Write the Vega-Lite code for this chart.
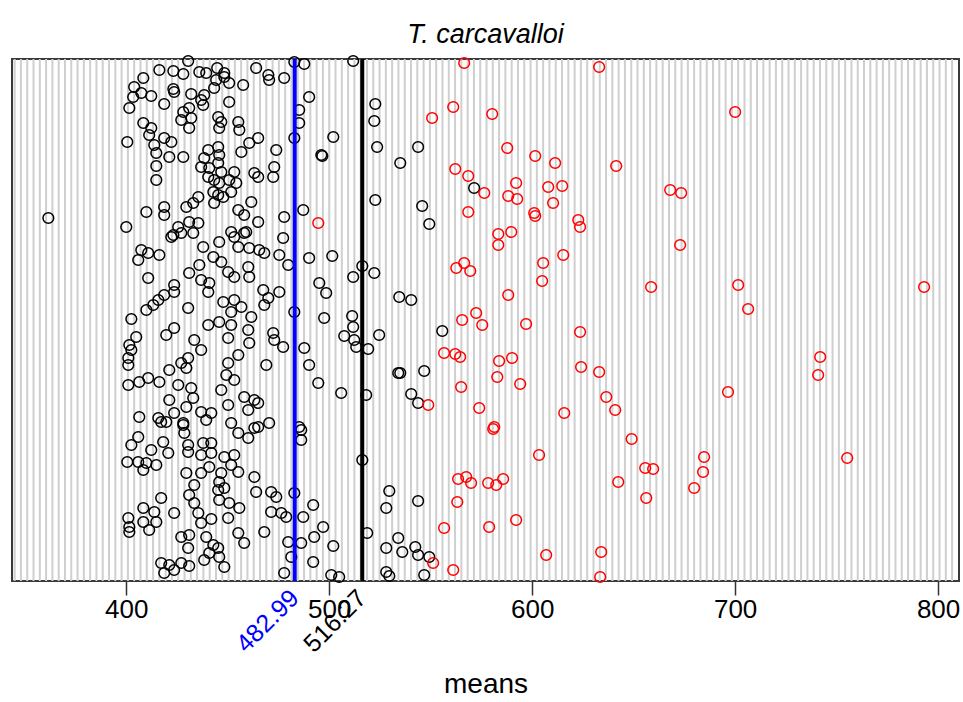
{
"$schema":"https://vega.github.io/schema/vega-lite/v6.json",
"width":947,"height":522,
"autosize":{"type":"none"},
"padding":{"left":12,"top":59,"right":4,"bottom":121},
"background":"white",
"config":{"view":{"stroke":"#3a3a3a","strokeWidth":2},"font":"Liberation Sans"},
"title":{"text":"T. carcavalloi","fontStyle":"italic","fontWeight":"normal","fontSize":27,"font":"Liberation Sans","color":"black","offset":4,"anchor":"middle"},
"datasets":{
"grid":[{"g":345},{"g":348.1},{"g":351.2},{"g":354.3},{"g":357.4},{"g":360.5},{"g":363.6},{"g":366.7},{"g":369.8},{"g":372.9},{"g":376},{"g":379.1},{"g":382.2},{"g":385.3},{"g":388.4},{"g":391.5},{"g":394.6},{"g":397.7},{"g":400.8},{"g":403.9},{"g":407},{"g":410.1},{"g":413.2},{"g":416.3},{"g":419.4},{"g":422.5},{"g":425.6},{"g":428.7},{"g":431.8},{"g":434.9},{"g":438},{"g":441.1},{"g":444.2},{"g":447.3},{"g":450.4},{"g":453.5},{"g":456.6},{"g":459.7},{"g":462.8},{"g":465.9},{"g":469},{"g":472.1},{"g":475.2},{"g":478.3},{"g":481.4},{"g":484.5},{"g":487.6},{"g":490.7},{"g":493.8},{"g":496.9},{"g":500},{"g":503.1},{"g":506.2},{"g":509.3},{"g":512.4},{"g":515.5},{"g":518.6},{"g":521.7},{"g":524.8},{"g":527.9},{"g":531},{"g":534.1},{"g":537.2},{"g":540.3},{"g":543.4},{"g":546.5},{"g":549.6},{"g":552.7},{"g":555.8},{"g":558.9},{"g":562},{"g":565.1},{"g":568.2},{"g":571.3},{"g":574.4},{"g":577.5},{"g":580.6},{"g":583.7},{"g":586.8},{"g":589.9},{"g":593},{"g":596.1},{"g":599.2},{"g":602.3},{"g":605.4},{"g":608.5},{"g":611.6},{"g":614.7},{"g":617.8},{"g":620.9},{"g":624},{"g":627.1},{"g":630.2},{"g":633.3},{"g":636.4},{"g":639.5},{"g":642.6},{"g":645.7},{"g":648.8},{"g":651.9},{"g":655},{"g":658.1},{"g":661.2},{"g":664.3},{"g":667.4},{"g":670.5},{"g":673.6},{"g":676.7},{"g":679.8},{"g":682.9},{"g":686},{"g":689.1},{"g":692.2},{"g":695.3},{"g":698.4},{"g":701.5},{"g":704.6},{"g":707.7},{"g":710.8},{"g":713.9},{"g":717},{"g":720.1},{"g":723.2},{"g":726.3},{"g":729.4},{"g":732.5},{"g":735.6},{"g":738.7},{"g":741.8},{"g":744.9},{"g":748},{"g":751.1},{"g":754.2},{"g":757.3},{"g":760.4},{"g":763.5},{"g":766.6},{"g":769.7},{"g":772.8},{"g":775.9},{"g":779},{"g":782.1},{"g":785.2},{"g":788.3},{"g":791.4},{"g":794.5},{"g":797.6},{"g":800.7},{"g":803.8},{"g":806.9}],
"pts":[
{"m":416.3,"i":511,"s":"a"},{"m":423.2,"i":510,"s":"a"},{"m":428.1,"i":507,"s":"a"},{"m":430.5,"i":520,"s":"a"},{"m":436,"i":509,"s":"a"},{"m":439.4,"i":508,"s":"a"},{"m":444.8,"i":513,"s":"a"},{"m":448.3,"i":508,"s":"a"},{"m":464,"i":513,"s":"a"},{"m":470,"i":506,"s":"a"},{"m":470.4,"i":501,"s":"a"},{"m":477.8,"i":503,"s":"a"},{"m":482.8,"i":519,"s":"a"},{"m":487.7,"i":517,"s":"a"},{"m":408.4,"i":503,"s":"a"},{"m":403.9,"i":494,"s":"a"},{"m":403.4,"i":484,"s":"a"},{"m":407.4,"i":488,"s":"a"},{"m":412.3,"i":485,"s":"a"},{"m":401.5,"i":473,"s":"a"},{"m":418.7,"i":477,"s":"a"},{"m":423.2,"i":492,"s":"a"},{"m":423.6,"i":489,"s":"a"},{"m":432,"i":487,"s":"a"},{"m":436.9,"i":481,"s":"a"},{"m":438.4,"i":486,"s":"a"},{"m":443.3,"i":493,"s":"a"},{"m":444.3,"i":501,"s":"a"},{"m":448.3,"i":504,"s":"a"},{"m":450.7,"i":498,"s":"a"},{"m":457.6,"i":496,"s":"a"},{"m":450.7,"i":479,"s":"a"},{"m":428.1,"i":469,"s":"a"},{"m":431,"i":473,"s":"a"},{"m":427.1,"i":461,"s":"a"},{"m":432,"i":463,"s":"a"},{"m":431,"i":453,"s":"a"},{"m":437.9,"i":476,"s":"a"},{"m":445.3,"i":464,"s":"a"},{"m":445.8,"i":453,"s":"a"},{"m":446.8,"i":459,"s":"a"},{"m":455.2,"i":459,"s":"a"},{"m":455.7,"i":451,"s":"a"},{"m":465,"i":443,"s":"a"},{"m":460.6,"i":438,"s":"a"},{"m":456.7,"i":429,"s":"a"},{"m":473.9,"i":431,"s":"a"},{"m":490.1,"i":484,"s":"a"},{"m":485.2,"i":471,"s":"a"},{"m":485.2,"i":458,"s":"a"},{"m":482.8,"i":443,"s":"a"},{"m":496.1,"i":426,"s":"a"},{"m":408.4,"i":458,"s":"a"},{"m":412.3,"i":453,"s":"a"},{"m":411.3,"i":446,"s":"a"},{"m":418.7,"i":443,"s":"a"},{"m":422.2,"i":439,"s":"a"},{"m":413.8,"i":436,"s":"a"},{"m":414.8,"i":428,"s":"a"},{"m":400.5,"i":439,"s":"a"},{"m":421.2,"i":424,"s":"a"},{"m":428.1,"i":424,"s":"a"},{"m":414.8,"i":415,"s":"a"},{"m":414.8,"i":401,"s":"a"},{"m":438.4,"i":423,"s":"a"},{"m":440.4,"i":431,"s":"a"},{"m":445.3,"i":434,"s":"a"},{"m":445.8,"i":426,"s":"a"},{"m":436.9,"i":414,"s":"a"},{"m":440.9,"i":413,"s":"a"},{"m":445.3,"i":418,"s":"a"},{"m":446.8,"i":409,"s":"a"},{"m":440.4,"i":404,"s":"a"},{"m":443.3,"i":401,"s":"a"},{"m":445.8,"i":398,"s":"a"},{"m":450.7,"i":401,"s":"a"},{"m":453.2,"i":409,"s":"a"},{"m":454.2,"i":398,"s":"a"},{"m":442.9,"i":389,"s":"a"},{"m":445.3,"i":386,"s":"a"},{"m":443.3,"i":378,"s":"a"},{"m":447.8,"i":384,"s":"a"},{"m":451.7,"i":389,"s":"a"},{"m":463.1,"i":408,"s":"a"},{"m":465,"i":404,"s":"a"},{"m":472.9,"i":414,"s":"a"},{"m":472.4,"i":404,"s":"a"},{"m":435.5,"i":384,"s":"a"},{"m":433,"i":378,"s":"a"},{"m":429.6,"i":374,"s":"a"},{"m":418.7,"i":374,"s":"a"},{"m":418.7,"i":366,"s":"a"},{"m":409.9,"i":369,"s":"a"},{"m":461.6,"i":379,"s":"a"},{"m":455.2,"i":371,"s":"a"},{"m":458.1,"i":366,"s":"a"},{"m":465,"i":359,"s":"a"},{"m":477.8,"i":364,"s":"a"},{"m":487.2,"i":371,"s":"a"},{"m":361.6,"i":363,"s":"a"},{"m":400,"i":354,"s":"a"},{"m":425.6,"i":354,"s":"a"},{"m":431,"i":359,"s":"a"},{"m":435.5,"i":358,"s":"a"},{"m":423.2,"i":346,"s":"a"},{"m":433,"i":348,"s":"a"},{"m":451.7,"i":349,"s":"a"},{"m":459.1,"i":349,"s":"a"},{"m":477.3,"i":343,"s":"a"},
{"m":511.8,"i":520,"s":"a"},{"m":502,"i":444,"s":"a"},{"m":496.6,"i":425,"s":"a"},{"m":522.7,"i":477,"s":"a"},{"m":522.2,"i":460,"s":"a"},{"m":523.6,"i":434,"s":"a"},{"m":543.8,"i":434,"s":"a"},{"m":535,"i":418,"s":"a"},{"m":522.7,"i":381,"s":"a"},{"m":545.8,"i":375,"s":"a"},{"m":549.3,"i":357,"s":"a"},{"m":571.4,"i":393,"s":"a"},
{"m":422.2,"i":344,"s":"a"},{"m":427.1,"i":348,"s":"a"},{"m":445.8,"i":339,"s":"a"},{"m":453.2,"i":344,"s":"a"},{"m":458.1,"i":348,"s":"a"},{"m":455.2,"i":334,"s":"a"},{"m":460.6,"i":333,"s":"a"},{"m":465.5,"i":331,"s":"a"},{"m":468,"i":328,"s":"a"},{"m":407.4,"i":331,"s":"a"},{"m":405.9,"i":321,"s":"a"},{"m":410.8,"i":328,"s":"a"},{"m":416.3,"i":326,"s":"a"},{"m":437.9,"i":334,"s":"a"},{"m":442.9,"i":324,"s":"a"},{"m":446.8,"i":319,"s":"a"},{"m":436,"i":316,"s":"a"},{"m":431,"i":308,"s":"a"},{"m":436.9,"i":301,"s":"a"},{"m":440.4,"i":289,"s":"a"},{"m":440.9,"i":298,"s":"a"},{"m":450.2,"i":309,"s":"a"},{"m":453.2,"i":304,"s":"a"},{"m":460.1,"i":314,"s":"a"},{"m":460.6,"i":304,"s":"a"},{"m":479.8,"i":316,"s":"a"},{"m":490.1,"i":323,"s":"a"},{"m":410.8,"i":303,"s":"a"},{"m":423.6,"i":296,"s":"a"},{"m":423.6,"i":289,"s":"a"},{"m":418.7,"i":286,"s":"a"},{"m":415.8,"i":281,"s":"a"},{"m":413.3,"i":276,"s":"a"},{"m":409.9,"i":271,"s":"a"},{"m":430.5,"i":273,"s":"a"},{"m":402.5,"i":262,"s":"a"},{"m":423.6,"i":253,"s":"a"},{"m":419.7,"i":246,"s":"a"},{"m":404.9,"i":244,"s":"a"},{"m":401.5,"i":236,"s":"a"},{"m":402.5,"i":231,"s":"a"},{"m":401,"i":223,"s":"a"},{"m":401,"i":216,"s":"a"},{"m":401,"i":196,"s":"a"},{"m":406.4,"i":199,"s":"a"},{"m":410.8,"i":203,"s":"a"},{"m":416.3,"i":199,"s":"a"},{"m":421.2,"i":211,"s":"a"},{"m":425.6,"i":196,"s":"a"},{"m":427.1,"i":218,"s":"a"},{"m":430.5,"i":223,"s":"a"},{"m":429.6,"i":213,"s":"a"},{"m":433.5,"i":241,"s":"a"},{"m":436.9,"i":231,"s":"a"},{"m":440.4,"i":256,"s":"a"},{"m":445.8,"i":259,"s":"a"},{"m":447.8,"i":279,"s":"a"},{"m":453.2,"i":281,"s":"a"},{"m":451.7,"i":269,"s":"a"},{"m":456.7,"i":274,"s":"a"},{"m":461.6,"i":264,"s":"a"},{"m":451.7,"i":256,"s":"a"},{"m":460.1,"i":251,"s":"a"},{"m":450.2,"i":243,"s":"a"},{"m":460.6,"i":238,"s":"a"},{"m":455.2,"i":226,"s":"a"},{"m":450.2,"i":218,"s":"a"},{"m":449.3,"i":206,"s":"a"},{"m":453.2,"i":201,"s":"a"},{"m":446.8,"i":191,"s":"a"},{"m":432,"i":193,"s":"a"},{"m":433,"i":183,"s":"a"},{"m":421.2,"i":181,"s":"a"},{"m":429.6,"i":174,"s":"a"},{"m":436.9,"i":169,"s":"a"},{"m":441.9,"i":168,"s":"a"},{"m":423.6,"i":168,"s":"a"},{"m":415.8,"i":163,"s":"a"},{"m":419.7,"i":159,"s":"a"},{"m":428.1,"i":158,"s":"a"},{"m":406.4,"i":164,"s":"a"},{"m":450.2,"i":176,"s":"a"},{"m":458.1,"i":184,"s":"a"},{"m":463.1,"i":181,"s":"a"},{"m":465,"i":178,"s":"a"},{"m":460.1,"i":171,"s":"a"},{"m":469,"i":216,"s":"a"},{"m":467.5,"i":291,"s":"a"},{"m":470,"i":283,"s":"a"},{"m":468,"i":276,"s":"a"},{"m":475.4,"i":289,"s":"a"},{"m":472.4,"i":248,"s":"a"},{"m":472.9,"i":241,"s":"a"},{"m":477.3,"i":234,"s":"a"},{"m":475.4,"i":326,"s":"a"},{"m":482.8,"i":269,"s":"a"},{"m":487.7,"i":233,"s":"a"},{"m":490.1,"i":216,"s":"a"},{"m":494.6,"i":198,"s":"a"},{"m":495.1,"i":298,"s":"a"},{"m":498.5,"i":288,"s":"a"},{"m":497.5,"i":263,"s":"a"},{"m":470.4,"i":158,"s":"a"},{"m":465,"i":154,"s":"a"},{"m":451.7,"i":158,"s":"a"},{"m":485.2,"i":154,"s":"a"},
{"m":501.5,"i":325,"s":"a"},{"m":516.3,"i":315,"s":"a"},{"m":511.8,"i":304,"s":"a"},{"m":522.2,"i":308,"s":"a"},{"m":511.3,"i":265,"s":"a"},{"m":511.8,"i":254,"s":"a"},{"m":507.4,"i":245,"s":"a"},{"m":512.3,"i":241,"s":"a"},{"m":513.3,"i":234,"s":"a"},{"m":519.2,"i":232,"s":"a"},{"m":524.6,"i":246,"s":"a"},{"m":505.9,"i":188,"s":"a"},{"m":518.2,"i":186,"s":"a"},{"m":534.5,"i":284,"s":"a"},{"m":540.4,"i":281,"s":"a"},{"m":555.7,"i":250,"s":"a"},{"m":534,"i":208,"s":"a"},{"m":535,"i":208,"s":"a"},{"m":546.8,"i":210,"s":"a"},{"m":540.4,"i":187,"s":"a"},{"m":543.8,"i":178,"s":"a"},
{"m":417.2,"i":159,"s":"a"},{"m":428.1,"i":156,"s":"a"},{"m":439.4,"i":161,"s":"a"},{"m":463.1,"i":153,"s":"a"},{"m":405.9,"i":144,"s":"a"},{"m":402.5,"i":136,"s":"a"},{"m":400.5,"i":119,"s":"a"},{"m":405.9,"i":119,"s":"a"},{"m":409.9,"i":118,"s":"a"},{"m":414.8,"i":116,"s":"a"},{"m":408.4,"i":111,"s":"a"},{"m":412.3,"i":131,"s":"a"},{"m":418.2,"i":139,"s":"a"},{"m":420.7,"i":128,"s":"a"},{"m":428.6,"i":148,"s":"a"},{"m":430.5,"i":136,"s":"a"},{"m":430.5,"i":129,"s":"a"},{"m":437.9,"i":138,"s":"a"},{"m":441.9,"i":138,"s":"a"},{"m":441.9,"i":128,"s":"a"},{"m":436.9,"i":126,"s":"a"},{"m":448.3,"i":124,"s":"a"},{"m":453.2,"i":126,"s":"a"},{"m":455.2,"i":148,"s":"a"},{"m":460.1,"i":143,"s":"a"},{"m":440.9,"i":114,"s":"a"},{"m":436.9,"i":108,"s":"a"},{"m":429.6,"i":108,"s":"a"},{"m":433.5,"i":96,"s":"a"},{"m":431,"i":86,"s":"a"},{"m":433.5,"i":78,"s":"a"},{"m":435.5,"i":68,"s":"a"},{"m":436.9,"i":58,"s":"a"},{"m":445.8,"i":99,"s":"a"},{"m":448.3,"i":93,"s":"a"},{"m":445.3,"i":91,"s":"a"},{"m":446.8,"i":108,"s":"a"},{"m":451.7,"i":116,"s":"a"},{"m":455.2,"i":109,"s":"a"},{"m":445.8,"i":81,"s":"a"},{"m":450.7,"i":78,"s":"a"},{"m":455.7,"i":73,"s":"a"},{"m":450.2,"i":63,"s":"a"},{"m":441.9,"i":62,"s":"a"},{"m":463.1,"i":104,"s":"a"},{"m":464,"i":89,"s":"a"},{"m":471.4,"i":89,"s":"a"},{"m":473.9,"i":84,"s":"a"},{"m":471.4,"i":69,"s":"a"},{"m":476.4,"i":68,"s":"a"},{"m":478.8,"i":64,"s":"a"},{"m":487.2,"i":64,"s":"a"},{"m":492.1,"i":76,"s":"a"},{"m":497,"i":54,"s":"a"},{"m":492.6,"i":44,"s":"a"},{"m":486.2,"i":151,"s":"a"},{"m":486.2,"i":141,"s":"a"},{"m":482.8,"i":88,"s":"a"},{"m":468,"i":49,"s":"a"},{"m":455.2,"i":48,"s":"a"},{"m":458.1,"i":38,"s":"a"},{"m":479.8,"i":39,"s":"a"},{"m":486.2,"i":38,"s":"a"},{"m":481.3,"i":24,"s":"a"},{"m":492.1,"i":19,"s":"a"},{"m":477.8,"i":8,"s":"a"},{"m":417.2,"i":83,"s":"a"},{"m":423.6,"i":68,"s":"a"},{"m":408.4,"i":73,"s":"a"},{"m":413.8,"i":69,"s":"a"},{"m":401,"i":63,"s":"a"},{"m":408.4,"i":59,"s":"a"},{"m":414.8,"i":59,"s":"a"},{"m":401.5,"i":54,"s":"a"},{"m":401.5,"i":49,"s":"a"},{"m":411.3,"i":51,"s":"a"},{"m":427.1,"i":44,"s":"a"},{"m":431,"i":46,"s":"a"},{"m":430.5,"i":33,"s":"a"},{"m":439.4,"i":44,"s":"a"},{"m":442.9,"i":36,"s":"a"},{"m":445.3,"i":33,"s":"a"},{"m":440.9,"i":28,"s":"a"},{"m":438.4,"i":21,"s":"a"},{"m":445.8,"i":24,"s":"a"},{"m":448.3,"i":14,"s":"a"},{"m":417.2,"i":18,"s":"a"},{"m":421.2,"i":16,"s":"a"},{"m":427.1,"i":18,"s":"a"},{"m":431,"i":15,"s":"a"},{"m":418.7,"i":8,"s":"a"},{"m":423.6,"i":11,"s":"a"},
{"m":516.3,"i":121,"s":"a"},{"m":502,"i":35,"s":"a"},{"m":501,"i":6,"s":"a"},{"m":504.9,"i":4,"s":"a"},{"m":518.7,"i":48,"s":"a"},{"m":529.6,"i":90,"s":"a"},{"m":528.1,"i":73,"s":"a"},{"m":543.8,"i":80,"s":"a"},{"m":534,"i":43,"s":"a"},{"m":528.1,"i":33,"s":"a"},{"m":536,"i":29,"s":"a"},{"m":542.4,"i":34,"s":"a"},{"m":543.8,"i":26,"s":"a"},{"m":549.3,"i":24,"s":"a"},{"m":528.1,"i":9,"s":"a"},{"m":529.6,"i":5,"s":"a"},{"m":546.8,"i":6,"s":"a"},
{"m":494.6,"i":358,"s":"b"},{"m":566.5,"i":518,"s":"b"},{"m":633,"i":514,"s":"b"},{"m":561.1,"i":474,"s":"b"},{"m":550.7,"i":463,"s":"b"},{"m":580.3,"i":467,"s":"b"},{"m":587.7,"i":433,"s":"b"},{"m":601.5,"i":425,"s":"b"},{"m":611.3,"i":418,"s":"b"},{"m":641.4,"i":415,"s":"b"},{"m":562.1,"i":412,"s":"b"},{"m":568.5,"i":405,"s":"b"},{"m":576.4,"i":388,"s":"b"},{"m":592.1,"i":398,"s":"b"},{"m":588.2,"i":385,"s":"b"},{"m":592.6,"i":382,"s":"b"},{"m":607.9,"i":394,"s":"b"},{"m":614.8,"i":395,"s":"b"},{"m":610.3,"i":378,"s":"b"},{"m":601,"i":368,"s":"b"},{"m":601.5,"i":365,"s":"b"},{"m":568.5,"i":369,"s":"b"},{"m":583.3,"i":347,"s":"b"},{"m":589.7,"i":349,"s":"b"},{"m":622.7,"i":361,"s":"b"},{"m":623.6,"i":354,"s":"b"},{"m":700,"i":469,"s":"b"},{"m":668,"i":391,"s":"b"},{"m":673.4,"i":388,"s":"b"},{"m":672.9,"i":336,"s":"b"},{"m":583.3,"i":336,"s":"b"},{"m":562.6,"i":313,"s":"b"},{"m":566.5,"i":318,"s":"b"},{"m":569.5,"i":310,"s":"b"},{"m":605.4,"i":318,"s":"b"},{"m":615.3,"i":326,"s":"b"},{"m":604.9,"i":300,"s":"b"},{"m":588.2,"i":286,"s":"b"},{"m":565.5,"i":261,"s":"b"},{"m":572.4,"i":268,"s":"b"},{"m":575.4,"i":256,"s":"b"},{"m":597,"i":257,"s":"b"},{"m":623.6,"i":249,"s":"b"},{"m":556.6,"i":228,"s":"b"},{"m":562.1,"i":227,"s":"b"},{"m":564.5,"i":224,"s":"b"},{"m":583.7,"i":220,"s":"b"},{"m":590.1,"i":223,"s":"b"},{"m":582.8,"i":204,"s":"b"},{"m":624.1,"i":214,"s":"b"},{"m":633,"i":209,"s":"b"},{"m":565,"i":194,"s":"b"},{"m":594.1,"i":197,"s":"b"},{"m":636.5,"i":184,"s":"b"},{"m":640.9,"i":171,"s":"b"},{"m":573.9,"i":173,"s":"b"},{"m":615.8,"i":168,"s":"b"},{"m":581.3,"i":154,"s":"b"},{"m":548.8,"i":176,"s":"b"},{"m":658.6,"i":294,"s":"b"},{"m":701.5,"i":296,"s":"b"},{"m":706.4,"i":272,"s":"b"},{"m":793.1,"i":294,"s":"b"},{"m":741.9,"i":224,"s":"b"},{"m":740.9,"i":206,"s":"b"},{"m":696.5,"i":189,"s":"b"},{"m":580.8,"i":152,"s":"b"},{"m":603.4,"i":126,"s":"b"},{"m":649,"i":142,"s":"b"},{"m":563.5,"i":102,"s":"b"},{"m":567.5,"i":104,"s":"b"},{"m":569.9,"i":98,"s":"b"},{"m":578.3,"i":98,"s":"b"},{"m":582.3,"i":96,"s":"b"},{"m":585.7,"i":102,"s":"b"},{"m":642.4,"i":99,"s":"b"},{"m":563.1,"i":79,"s":"b"},{"m":556.6,"i":53,"s":"b"},{"m":578.8,"i":54,"s":"b"},{"m":592.1,"i":61,"s":"b"},{"m":606.9,"i":26,"s":"b"},{"m":634,"i":29,"s":"b"},{"m":561.1,"i":11,"s":"b"},{"m":633.5,"i":4,"s":"b"},{"m":551.2,"i":18,"s":"b"},{"m":655.7,"i":113,"s":"b"},{"m":659.6,"i":112,"s":"b"},{"m":656.2,"i":83,"s":"b"},{"m":684.7,"i":124,"s":"b"},{"m":684.2,"i":109,"s":"b"},{"m":679.8,"i":93,"s":"b"},{"m":755.2,"i":123,"s":"b"}
],
"marks":[{"v":482.99,"lab":"482.99","c":"#0000ff","i":-13},{"v":516.27,"lab":"516.27","c":"black","i":-13}]
},
"layer":[
{"data":{"name":"grid"},"mark":{"type":"rule","color":"#cfcfcf","strokeWidth":2},
 "encoding":{"x":{"field":"g","type":"quantitative","scale":{"domain":[343.7,810.3],"nice":false,"zero":false},
   "axis":{"values":[400,500,600,700,800],"title":"means","grid":false,"domain":false,"ticks":true,"tickSize":14,"tickColor":"#333","tickWidth":1.5,"labelFontSize":26,"labelColor":"black","labelFont":"Liberation Sans","labelPadding":1,"titleFontSize":28,"titleFont":"Liberation Sans","titleFontWeight":"normal","titleColor":"black","titlePadding":48}}}},
{"data":{"name":"pts"},"mark":{"type":"point","shape":"circle","filled":false,"size":115,"strokeWidth":1.5,"opacity":1},
 "encoding":{"x":{"field":"m","type":"quantitative"},
  "y":{"field":"i","type":"quantitative","scale":{"domain":[0,522],"nice":false,"zero":false},"axis":null},
  "stroke":{"field":"s","type":"nominal","scale":{"domain":["a","b"],"range":["black","#ff0000"]},"legend":null}}},
{"data":{"name":"marks"},"mark":{"type":"rule","strokeWidth":4},
 "encoding":{"x":{"field":"v","type":"quantitative"},"stroke":{"field":"c","type":"nominal","scale":null}}},
{"data":{"name":"marks"},"mark":{"type":"text","angle":315,"align":"right","baseline":"middle","fontSize":25,"font":"Liberation Sans","clip":false},
 "encoding":{"x":{"field":"v","type":"quantitative"},"y":{"field":"i","type":"quantitative"},"text":{"field":"lab","type":"nominal"},"fill":{"field":"c","type":"nominal","scale":null}}}
]
}
